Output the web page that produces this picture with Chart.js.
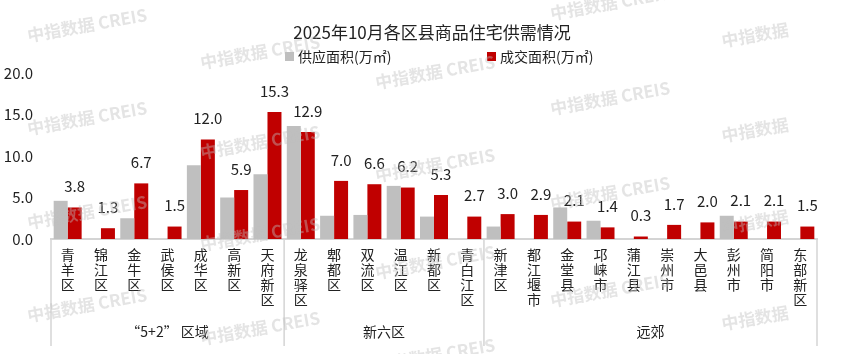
<!DOCTYPE html>
<html>
<head>
<meta charset="utf-8">
<script src="https://cdn.jsdelivr.net/npm/chart.js@4.4.1/dist/chart.umd.min.js"></script>
<style>
  html, body { margin: 0; padding: 0; background: #fff; }
  #wrap { width: 865px; height: 354px; }
</style>
</head>
<body>
<div id="wrap"><canvas id="supplyChart" width="865" height="354"></canvas></div>
<script>
// districts, left to right
const districts = ['青羊区', '锦江区', '金牛区', '武侯区', '成华区', '高新区', '天府新区',
    '龙泉驿区', '郫都区', '双流区', '温江区', '新都区', '青白江区',
    '新津区', '都江堰市', '金堂县', '邛崃市', '蒲江县', '崇州市', '大邑县', '彭州市', '简阳市', '东部新区'];

// 供应面积 (gray), 0 where no bar is drawn
const supply = [4.6, 0, 2.5, 0, 8.9, 5.0, 7.8,
    13.6, 2.8, 2.9, 6.4, 2.7, 0,
    1.5, 0, 3.8, 2.2, 0, 0, 0, 2.8, 0, 0];

// 成交面积 (red)
const deals = [3.8, 1.3, 6.7, 1.5, 12.0, 5.9, 15.3,
    12.9, 7.0, 6.6, 6.2, 5.3, 2.7,
    3.0, 2.9, 2.1, 1.4, 0.3, 1.7, 2.0, 2.1, 2.1, 1.5];

const groupNames = ['“5+2” 区域', '新六区', '远郊'];
const groupSizes = [7, 6, 10];

const yTicks = [0, 5, 10, 15, 20];

const chartTitle = '2025年10月各区县商品住宅供需情况';
const seriesNames = ['供应面积(万㎡)', '成交面积(万㎡)'];
const seriesColors = ['#bfbfbf', '#c00000'];

const FONT = '"Noto Sans CJK SC", "Noto Sans", sans-serif';
const LINE_GRAY = '#d4d4d4';

// watermark spots (centre x, centre y, text)
const marks = [
    [87, 25], [87, 118], [87, 212], [87, 305],
    [260, 52], [260, 142], [260, 234], [260, 328],
    [435, 72], [435, 165], [435, 262], [435, 355],
    [610, 3], [610, 98], [610, 193], [610, 290]
];
const marksShort = [[755, 35], [755, 130], [755, 222], [755, 318]];

// title, legend and watermark drawn by hand
const decorPlugin = {
    id: 'decor',
    afterDraw(chart) {
        const ctx = chart.ctx;
        ctx.save();
        ctx.fillStyle = '#222';
        ctx.font = '17px ' + FONT;
        ctx.textAlign = 'center';
        ctx.textBaseline = 'middle';
        ctx.fillText(chartTitle, 432, 33);

        // legend
        ctx.font = '14px ' + FONT;
        ctx.textAlign = 'left';
        const legendX = [285, 487];
        seriesNames.forEach((name, i) => {
            ctx.fillStyle = seriesColors[i];
            ctx.fillRect(legendX[i], 52, 9, 9);
            ctx.fillStyle = '#222';
            ctx.fillText(name, legendX[i] + 13, 57);
        });

        // group separators and group names under the axis
        const x = chart.scales.x;
        const area = chart.chartArea;
        const edge = i => {
            if (i <= 0) return area.left;
            if (i >= districts.length) return area.right;
            return (x.getPixelForValue(i - 1) + x.getPixelForValue(i)) / 2;
        };
        ctx.strokeStyle = LINE_GRAY;
        ctx.lineWidth = 1.5;
        let start = 0;
        ctx.fillStyle = '#222';
        ctx.font = '14px ' + FONT;
        ctx.textAlign = 'center';
        groupSizes.forEach((n, g) => {
            const l = edge(start), r = edge(start + n);
            ctx.beginPath();
            ctx.moveTo(l, area.bottom);
            ctx.lineTo(l, 346);
            ctx.stroke();
            if (g === groupSizes.length - 1) {
                ctx.beginPath();
                ctx.moveTo(r, area.bottom);
                ctx.lineTo(r, 346);
                ctx.stroke();
            }
            ctx.fillText(groupNames[g], (l + r) / 2, 332);
            start += n;
        });

        // watermark on top, faint
        ctx.fillStyle = 'rgba(190,190,190,0.42)';
        ctx.font = 'bold 17px ' + FONT;
        const stamp = (cx, cy, text) => {
            ctx.save();
            ctx.translate(cx, cy);
            ctx.rotate(-10 * Math.PI / 180);
            ctx.fillText(text, 0, 0);
            ctx.restore();
        };
        marks.forEach(m => stamp(m[0], m[1], '中指数据 CREIS'));
        marksShort.forEach(m => stamp(m[0], m[1], '中指数据'));
        ctx.restore();
    }
};

// value labels above the red bars
const valueLabels = {
    id: 'valueLabels',
    afterDatasetsDraw(chart) {
        const ctx = chart.ctx;
        const meta = chart.getDatasetMeta(1);
        ctx.save();
        ctx.fillStyle = '#222';
        ctx.font = '15px ' + FONT;
        ctx.textAlign = 'center';
        ctx.textBaseline = 'middle';
        meta.data.forEach((bar, i) => {
            ctx.fillText(deals[i].toFixed(1), bar.x, bar.y - 21);
        });
        ctx.restore();
    }
};

const ctx = document.getElementById('supplyChart').getContext('2d');
const chart = new Chart(ctx, {
    type: 'bar',
    data: {
        labels: districts.map(d => d.split('')),
        datasets: [{
            label: seriesNames[0],
            data: supply,
            backgroundColor: seriesColors[0],
            categoryPercentage: 0.84,
            barPercentage: 1.0
        }, {
            label: seriesNames[1],
            data: deals,
            backgroundColor: seriesColors[1],
            categoryPercentage: 0.84,
            barPercentage: 1.0
        }]
    },
    options: {
        responsive: false,
        animation: false,
        layout: {
            padding: { top: 73, right: 48, bottom: 0, left: 0 }
        },
        plugins: {
            legend: { display: false },
            title: { display: false },
            tooltip: { enabled: false }
        },
        scales: {
            x: {
                grid: { display: false, drawTicks: false },
                border: { display: true, color: LINE_GRAY, width: 2 },
                ticks: {
                    autoSkip: false,
                    maxRotation: 0,
                    minRotation: 0,
                    padding: 8,
                    color: '#222',
                    font: { family: FONT, size: 14, lineHeight: '15px' }
                },
                afterFit: scale => { scale.height = 115; }
            },
            y: {
                min: 0,
                max: 20,
                grid: { display: false, drawTicks: false },
                border: { display: false },
                afterBuildTicks: scale => {
                    scale.ticks = yTicks.map(v => ({ value: v }));
                },
                ticks: {
                    padding: 18,
                    color: '#222',
                    font: { family: FONT, size: 15 },
                    callback: v => Number(v).toFixed(1)
                },
                afterFit: scale => { scale.width = 51; }
            }
        }
    },
    plugins: [valueLabels, decorPlugin]
});
</script>
</body>
</html>
